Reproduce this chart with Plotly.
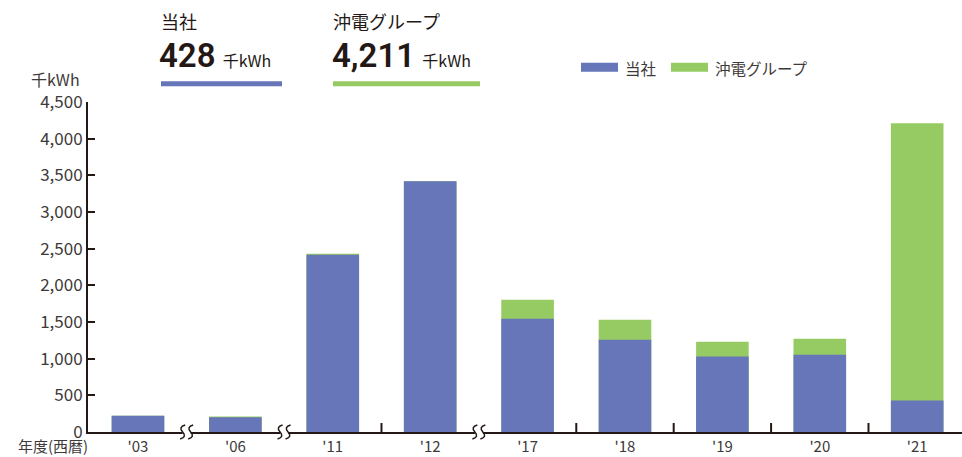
import plotly.graph_objects as go

# Fiscal years (western calendar), abbreviated
years = ["'03", "'06", "'11", "'12", "'17", "'18", "'19", "'20", "'21"]
# Generation by the company itself (千kWh)
company = [223, 200, 2418, 3420, 1546, 1259, 1028, 1055, 428]
# Generation by the whole Oki Electric group (千kWh), includes the company
group_total = [223, 210, 2431, 3420, 1805, 1532, 1232, 1273, 4211]
# Gaps in the time axis (between these index pairs the years are not contiguous)
break_after = [0, 1, 3]

y_ticks = [0, 500, 1000, 1500, 2000, 2500, 3000, 3500, 4000, 4500]

BLUE = "#6676b9"
GREEN = "#96cb64"
INK = "#231815"
GREY = "#3e3a39"
JP = "Noto Sans CJK JP, Noto Sans, sans-serif"

W, H = 962, 457
# Plot area in page pixels
L, R, T, B = 88, 962, 102.3, 432.4
X_RANGE = [-0.513, 8.46]
x_idx = list(range(len(years)))


def px(x):
    return (x - L) / (R - L)


def py(y):
    return (B - y) / (B - T)


def x_to_pixel(v):
    return L + (v - X_RANGE[0]) / (X_RANGE[1] - X_RANGE[0]) * (R - L)


fig = go.Figure()
# Group total drawn first; the company's own share is laid over it
fig.add_trace(go.Bar(x=x_idx, y=group_total, marker=dict(color=GREEN, line=dict(width=0)),
                     width=0.54, name="沖電グループ", showlegend=False))
fig.add_trace(go.Bar(x=x_idx, y=company, marker=dict(color=BLUE, line=dict(width=0)),
                     width=0.54, name="当社", showlegend=False))

shapes = []
# Small upward ticks between adjacent years
for i in range(len(years) - 1):
    if i in break_after:
        continue
    shapes.append(dict(type="line", xref="x", yref="y", ysizemode="pixel", yanchor=0,
                       x0=i + 0.5, x1=i + 0.5, y0=0, y1=9,
                       line=dict(color=INK, width=2)))


def pix_path(points_cmds):
    out = []
    for cmd, pts in points_cmds:
        coords = " ".join(f"{px(x):.5f},{py(y):.5f}" for x, y in pts)
        out.append(f"{cmd} {coords}")
    return " ".join(out)


# Wavy break marks on the time axis
for i in break_after:
    cx = x_to_pixel(i + 0.5)
    shapes.append(dict(type="rect", xref="paper", yref="paper",
                       x0=px(cx - 4), x1=px(cx + 4), y0=py(B + 3), y1=py(B - 3),
                       fillcolor="white", line=dict(width=0), layer="above"))
    for dx in (-4, 4):
        sx = cx + dx
        path = pix_path([
            ("M", [(sx + 2.5, B - 7)]),
            ("Q", [(sx - 4.5, B - 5), (sx, B)]),
            ("Q", [(sx + 4.5, B + 5), (sx - 2.5, B + 7)]),
        ])
        shapes.append(dict(type="path", xref="paper", yref="paper", path=path,
                           line=dict(color=INK, width=1.5), layer="above"))


# Header underline bars and legend swatches (positioned in page pixels)
def bar_shape(x0, x1, y0, y1, color):
    return dict(type="rect", xref="paper", yref="paper", x0=px(x0), x1=px(x1),
                y0=py(y1), y1=py(y0), fillcolor=color, line=dict(width=0), layer="above")


shapes += [
    bar_shape(161, 282, 81.5, 86.5, BLUE),
    bar_shape(333, 480, 81.5, 86.5, GREEN),
    bar_shape(581, 618, 63, 72, BLUE),
    bar_shape(671, 708, 63, 72, GREEN),
]

annotations = []


def text(x, y, s, size, color=INK, family=JP, xanchor="left"):
    annotations.append(dict(x=px(x), y=py(y), xref="paper", yref="paper", text=s,
                            showarrow=False, xanchor=xanchor, yanchor="middle",
                            font=dict(size=size, color=color, family=family)))


# Header figures for the latest year
latest_company = company[-1]
latest_group = group_total[-1]
text(159, 21, "当社", 18)
text(331, 21, "沖電グループ", 18)
big = "<span style='font-size:33px;font-weight:600;font-family:Roboto'>{}</span> \u00a0千kWh"
text(157, 56, big.format(f"{latest_company:,}"), 16)
text(330, 56, big.format(f"{latest_group:,}"), 16)

# Legend labels
text(623, 68, "当社", 15.5, GREY)
text(713, 68, "沖電グループ", 15.5, GREY)

# Axis captions
text(82, 79, "千kWh", 16, GREY, xanchor="right")
text(90, 446, "年度(西暦)", 15, GREY, xanchor="right")

fig.update_layout(
    width=W, height=H,
    margin=dict(l=L, r=W - R, t=T, b=H - B, autoexpand=False),
    paper_bgcolor="white", plot_bgcolor="white",
    barmode="overlay",
    separators=".,",
    shapes=shapes,
    annotations=annotations,
    font=dict(family=JP, color=GREY),
    xaxis=dict(range=X_RANGE, automargin=False,
               tickvals=x_idx, ticktext=years, ticks="",
               showline=True, linecolor=INK, linewidth=2,
               showgrid=False, zeroline=False, fixedrange=True,
               tickfont=dict(size=15, color=GREY, family=JP)),
    yaxis=dict(range=[0, 4500], automargin=False,
               tickvals=y_ticks, tickformat=",d", ticks="inside", ticklen=7,
               tickwidth=2, tickcolor=INK,
               showline=True, linecolor=INK, linewidth=2,
               showgrid=False, zeroline=False, fixedrange=True,
               tickfont=dict(size=17, color=GREY, family=JP)),
)

fig.write_html("out.html")
